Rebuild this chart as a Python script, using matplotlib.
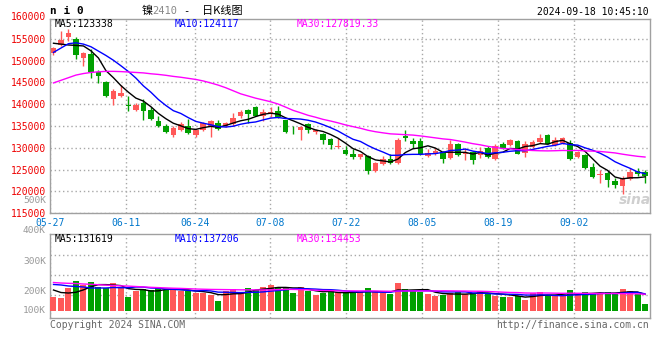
import numpy as np
import pandas as pd
import matplotlib
matplotlib.use("Agg")
import matplotlib.pyplot as plt
from matplotlib.transforms import blended_transform_factory

# ---------------- data ----------------
dates = ["05-27", "05-28", "05-29", "05-30", "05-31",
         "06-03", "06-04", "06-05", "06-06", "06-07",
         "06-11", "06-12", "06-13", "06-14",
         "06-17", "06-18", "06-19", "06-20", "06-21",
         "06-24", "06-25", "06-26", "06-27", "06-28",
         "07-01", "07-02", "07-03", "07-04", "07-05",
         "07-08", "07-09", "07-10", "07-11", "07-12",
         "07-15", "07-16", "07-17", "07-18", "07-19",
         "07-22", "07-23", "07-24", "07-25", "07-26",
         "07-29", "07-30", "07-31", "08-01", "08-02",
         "08-05", "08-06", "08-07", "08-08", "08-09",
         "08-12", "08-13", "08-14", "08-15", "08-16",
         "08-19", "08-20", "08-21", "08-22", "08-23",
         "08-26", "08-27", "08-28", "08-29", "08-30",
         "09-02", "09-03", "09-04", "09-05", "09-06",
         "09-09", "09-10", "09-11", "09-12", "09-13",
         "09-18"]
tick_dates = ["05-27", "06-11", "06-24", "07-08", "07-22", "08-05", "08-19", "09-02"]

opens = [151700, 153600, 155400, 155000, 150700, 151500, 147300, 145000, 141300, 142000,
         139800, 138800, 140400, 138600, 136100, 135100, 133000, 134200, 135100, 132900,
         134200, 135000, 135800, 135000, 135400, 137400, 138600, 139300, 137400, 138100,
         138400, 136300, 134100, 134200, 135400, 133600, 133200, 132100, 130100, 129500,
         128500, 127800, 128100, 124700, 126200, 127400, 126600, 132700, 131500, 131500,
         128100, 128500, 129000, 127600, 131000, 128600, 129000, 128400, 130000, 127400,
         131000, 130600, 131500, 128900, 130200, 131300, 133000, 130600, 131200, 131200,
         127900, 128400, 125600, 123700, 124300, 122300, 121300, 122800, 124700, 124500]
closes = [152900, 154800, 156300, 151200, 151700, 147300, 146600, 141800, 143100, 142700,
          139700, 139800, 138400, 136700, 135000, 133600, 134600, 135400, 133500, 134100,
          135600, 136100, 134300, 135600, 136900, 138200, 137800, 137400, 138200, 138200,
          137100, 133600, 134000, 134700, 134200, 134100, 131800, 130600, 130400, 128500,
          127900, 128500, 124700, 126600, 127400, 126600, 131900, 132200, 130900, 128500,
          128900, 129300, 127400, 131000, 128300, 128900, 127300, 129400, 127900, 130400,
          130000, 131700, 128700, 130800, 131400, 132300, 131000, 131700, 132300, 127500,
          129100, 125300, 123300, 123900, 122600, 121500, 123200, 124500, 124000, 123600]
highs = [153100, 156800, 157200, 155500, 152000, 152600, 147900, 145400, 143600, 144500,
         142000, 140300, 141300, 139400, 137300, 135400, 135000, 135900, 136700, 134400,
         135900, 136500, 136400, 136000, 137900, 138600, 138900, 139700, 139000, 139300,
         139600, 136500, 135000, 135100, 135600, 134300, 133500, 132300, 132200, 130500,
         129800, 128700, 128300, 126800, 128200, 128600, 132300, 134100, 132200, 132200,
         129800, 129900, 129200, 131900, 131200, 129900, 129200, 130100, 130400, 130800,
         131400, 132000, 131700, 131500, 131700, 133100, 133200, 132500, 132600, 131800,
         129300, 128600, 126600, 124900, 124800, 123000, 123600, 125300, 125300, 125000]
lows = [151300, 153400, 154400, 150400, 148700, 146000, 144900, 141600, 139900, 141700,
        138400, 138500, 136500, 136500, 134900, 133400, 132600, 133800, 133300, 132500,
        133900, 132600, 134100, 134700, 135100, 136900, 135800, 137200, 136100, 137000,
        136900, 133400, 133100, 131900, 133500, 133200, 130800, 129700, 130000, 128300,
        127500, 127400, 124000, 124500, 126000, 126400, 126400, 131500, 129900, 128300,
        127900, 128300, 126600, 127400, 128100, 127300, 126200, 127700, 127600, 127200,
        129800, 130400, 128500, 128000, 129900, 131100, 130800, 130400, 131000, 127300,
        127700, 125100, 123100, 122000, 121100, 120900, 119400, 122600, 123500, 122000]
volumes = [108900, 103400, 182900, 238500, 206700, 230600, 190800, 182900, 222600, 182900,
           111300, 159000, 174900, 167000, 188400, 167000, 167000, 159000, 159000, 143100,
           143100, 127200, 79500, 159000, 174900, 151100, 182900, 167000, 190800, 206700,
           190800, 182900, 145500, 190800, 159000, 127200, 143100, 159000, 148700, 148700,
           140700, 148700, 185200, 148700, 143100, 132800, 225000, 177300, 159000, 153400,
           135200, 121600, 127200, 140700, 148700, 132800, 140700, 159000, 135200, 121600,
           111300, 111300, 119300, 89800, 143100, 153400, 127200, 121600, 121600, 167000,
           127200, 151100, 135200, 143100, 151100, 135200, 174900, 159000, 135200, 55700]

ma5_head = [154000, 153800, 153600, 153500]
ma10_head = [151900, 152900, 153900, 154100, 153800, 153200, 152200, 151200, 150100]
ma30_head = [144900, 145500, 146100, 146700, 147050, 147300, 147450, 147550, 147550, 147500,
             147400, 147300, 147200, 147000, 146850, 146650, 146400, 146200, 145950, 145700,
             145350, 144900, 144400, 143800, 143100, 142400, 141900, 141400, 141000]
vma5_head = [167000, 147000, 143000, 149000]
vma10_head = [211000, 207000, 199000, 195000, 191000, 183000, 183000, 183000, 187000]
vma30_head = [226600, 222600, 220200, 218600, 214700, 212300, 209100, 205900, 202700, 200300,
              198000, 194800, 191600, 188400, 186000, 183600, 181300, 179700, 177300, 174900,
              173300, 171700, 170900, 170100, 169300, 168500, 168500, 167700, 167700]

price_ma_labels = ["MA5:123338", "MA10:124117", "MA30:127819.33"]
vol_ma_labels = ["MA5:131619", "MA10:137206", "MA30:134453"]
price_ticks = [115000, 120000, 125000, 130000, 135000, 140000, 145000, 150000, 155000]
price_top_label = 160000
vol_labels = ["500K", "400K", "300K", "200K", "100K"]
title_parts = ["镍", "2410", "-", "日K线图"]
symbol = "n i 0"
stamp = "2024-09-18 10:45:10"

# ---------------- helpers ----------------
def with_head(values, head, n):
    s = pd.Series(values, dtype=float).rolling(n).mean().to_numpy()
    s[:len(head)] = head
    return s

n = len(dates)
x = np.arange(n)
o = np.array(opens, float); c = np.array(closes, float)
h = np.array(highs, float); l = np.array(lows, float)
v = np.array(volumes, float)
up = c >= o

RED = "#FF5858"
GREEN = "#00A000"
GRID = "#A8A8A8"
FRAME = "#A0A0A0"
MONO = "DejaVu Sans Mono"
CJK = ["Noto Sans CJK SC", "DejaVu Sans"]

W, H = 660, 360
fig = plt.figure(figsize=(6.6, 3.6), dpi=100)
fig.patch.set_facecolor("white")

def fx(px):
    return px / W

def fy(py):
    return 1 - py / H

L, R = 50.5, 649.5
ax = fig.add_axes([fx(L), fy(213.3), (R - L) / W, (213.3 - 19) / H])
axv = fig.add_axes([fx(L), fy(318.3), (R - L) / W, (318.3 - 234.3) / H])

xmin, xmax = -0.4, n - 0.4
grid_x = [dates.index(d) * n / (n - 1) + xmin for d in tick_dates]

# ---------------- price panel ----------------
ax.vlines(x, l, h, colors=np.where(up, RED, GREEN), linewidth=1, zorder=2)
body = np.maximum(np.abs(c - o), 160)
ax.bar(x, body, bottom=np.minimum(o, c), width=0.74,
       color=np.where(up, RED, GREEN), linewidth=0, zorder=3)

ax.plot(x, with_head(closes, ma5_head, 5), color="black", lw=1, zorder=4)
ax.plot(x, with_head(closes, ma10_head, 10), color="#0000FF", lw=1, zorder=4)
ax.plot(x, with_head(closes, ma30_head, 30), color="#FF00FF", lw=1, zorder=4)

ax.set_xlim(xmin, xmax)
ax.set_ylim(115000, 159560)
ax.set_yticks(price_ticks)
ax.set_yticklabels([str(t) for t in price_ticks])
ax.set_xticks(grid_x)
ax.set_xticklabels(tick_dates)
ax.tick_params(axis="y", length=0, pad=3.3, labelsize=7, labelcolor="#EE0000")
ax.tick_params(axis="x", length=0, pad=3.5, labelsize=7, labelcolor="#0077CC")
for lab in ax.get_xticklabels() + ax.get_yticklabels():
    lab.set_family(MONO)
ax.grid(True, color=GRID, linestyle=(0, (1, 2)), linewidth=1, zorder=0)
for sp in ax.spines.values():
    sp.set_color(FRAME); sp.set_linewidth(1)

tr = blended_transform_factory(ax.transAxes, ax.transData)
ax.text(-4.5 / (R - L), price_top_label, str(price_top_label),
        transform=tr, ha="right", va="center", fontsize=7, family=MONO,
        color="#EE0000", clip_on=False)

ma_x = [54.3, 175, 296.7]
ma_cols = ["black", "#0000FF", "#FF00FF"]
for lab, px_, col in zip(price_ma_labels, ma_x, ma_cols):
    fig.text(fx(px_), fy(24.2), lab, ha="left", va="center", fontsize=7, family=MONO, color=col)

fig.text(fx(635), fy(200.5), "sina", ha="center", va="center", fontsize=10, style="italic",
         weight="bold", color="#CFCFCF", family="DejaVu Sans", zorder=1)

# ---------------- volume panel ----------------
axv.bar(x, v, width=0.8, color=np.where(up, RED, GREEN), linewidth=0, zorder=3)
axv.plot(x, with_head(volumes, vma5_head, 5), color="black", lw=1, zorder=4)
axv.plot(x, with_head(volumes, vma10_head, 10), color="#0000FF", lw=1, zorder=4)
axv.plot(x, with_head(volumes, vma30_head, 30), color="#FF00FF", lw=1, zorder=4)
axv.set_xlim(xmin, xmax)
axv.set_ylim(-58000, 610000)
axv.set_xticks(grid_x)
axv.set_yticks([])
axv.tick_params(axis="x", length=0, labelbottom=False)
axv.grid(True, axis="x", color=GRID, linestyle=(0, (1, 2)), linewidth=1, zorder=0)
for fr in [0.756, 0.518, 0.28]:
    axv.plot([0, 1], [fr, fr], transform=axv.transAxes, color=GRID,
             linestyle=(0, (1, 2)), linewidth=1, zorder=0)
for sp in axv.spines.values():
    sp.set_color(FRAME); sp.set_linewidth(1)

for lab, px_, col in zip(vol_ma_labels, ma_x, ma_cols):
    fig.text(fx(px_), fy(238.6), lab, ha="left", va="center", fontsize=7, family=MONO, color=col)

for lab, py in zip(vol_labels, [200.5, 230.8, 261, 291, 310.7]):
    fig.text(fx(46), fy(py), lab, ha="right", va="center", fontsize=6.8, family=MONO, color="#999999")

# ---------------- header / footer ----------------
fig.text(fx(50.5), fy(11.5), symbol, ha="left", va="center", fontsize=8, family=MONO,
         weight="bold", color="black")
fig.text(fx(141.5), fy(11.2), title_parts[0], ha="left", va="center", fontsize=8, family=CJK, color="black")
fig.text(fx(152.5), fy(11.2), title_parts[1], ha="left", va="center", fontsize=7.5, family=MONO, color="#888888")
fig.text(fx(183), fy(11.2), title_parts[2], ha="left", va="center", fontsize=7.5, family=MONO, color="black")
fig.text(fx(201.5), fy(11.2), title_parts[3], ha="left", va="center", fontsize=8, family=CJK, color="black")
fig.text(fx(648.5), fy(12), stamp, ha="right", va="center", fontsize=7, family=MONO, color="black")

fig.text(fx(50), fy(324.5), "Copyright 2024 SINA.COM", ha="left", va="center",
         fontsize=7, family=MONO, color="#666666")
fig.text(fx(649), fy(324.5), "http://finance.sina.com.cn", ha="right", va="center",
         fontsize=7, family=MONO, color="#666666")

fig.savefig("out.png", dpi=100, facecolor="white")
